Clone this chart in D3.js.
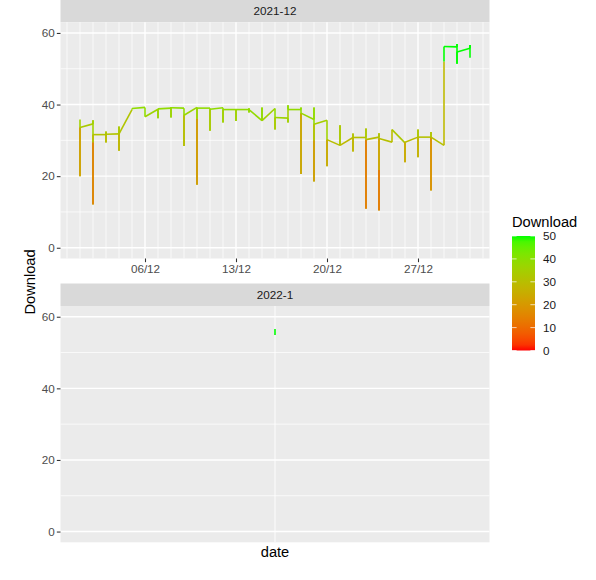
<!DOCTYPE html>
<html>
<head>
<meta charset="utf-8">
<script src="https://cdn.jsdelivr.net/npm/d3@7"></script>
<style>
  body { margin: 0; background: #fff; }
  text { font-family: "Liberation Sans", Arial, sans-serif; }
</style>
</head>
<body>
<div id="chart-area"></div>
<script>
// facet labels
var facetNames = ["2021-12", "2022-1"];

// dates of each facet (one reading list per date)
var decDates = ["2021-12-01", "2021-12-02", "2021-12-03", "2021-12-04", "2021-12-05",
    "2021-12-06", "2021-12-07", "2021-12-08", "2021-12-09", "2021-12-10",
    "2021-12-11", "2021-12-12", "2021-12-13", "2021-12-14", "2021-12-15",
    "2021-12-16", "2021-12-17", "2021-12-18", "2021-12-19", "2021-12-20",
    "2021-12-21", "2021-12-22", "2021-12-23", "2021-12-24", "2021-12-25",
    "2021-12-26", "2021-12-27", "2021-12-28", "2021-12-29", "2021-12-30",
    "2021-12-31"];
var janDates = ["2022-01-01"];

// download readings, in the order they were taken that day
var decReadings = [
    [35.8, 20.0, 33.6],
    [34.6, 35.6, 12.1, 29.5, 31.6],
    [31.6, 32.5, 29.4, 31.7],
    [31.8, 33.9, 27.1, 31.8],
    [38.6, 38.9],
    [39.2, 36.6],
    [38.7, 36.2, 38.8],
    [39.0, 36.4, 39.3, 39.1],
    [39.0, 28.4, 37.0],
    [39.2, 17.6, 36.0, 39.0],
    [39.0, 32.7, 38.7],
    [39.1, 35.0, 38.6],
    [38.6, 35.4, 38.6],
    [38.6, 39.0, 37.8, 38.6],
    [35.5, 39.2, 35.5],
    [38.9, 33.0, 36.4],
    [36.2, 35.0, 39.8, 38.6],
    [38.6, 39.2, 20.6, 37.6],
    [35.8, 39.2, 18.5, 30.0, 34.5],
    [35.6, 22.8, 30.2],
    [28.6, 34.2, 28.6],
    [30.8, 31.9, 26.9, 30.8],
    [30.8, 33.3, 10.9, 30.2],
    [30.9, 32.0, 10.4, 21.7, 30.5],
    [29.5, 33.0],
    [29.3, 23.9, 29.5],
    [30.9, 33.0, 25.3, 30.9],
    [30.9, 32.3, 16.0, 30.9],
    [28.6, 52.0, 56.2],
    [56.1, 56.9, 51.4, 54.7],
    [55.7, 56.6, 53.1]
];
var janReadings = [
    [56.6, 54.9]
];

var yTicks = [0, 20, 40, 60];
var yMinor = [10, 30, 50];
var yLimits = [0, 60];
var xTickDays = ["2021-12-06", "2021-12-13", "2021-12-20", "2021-12-27"];
var legendBreaks = [0, 10, 20, 30, 40, 50];
var colourLimits = [0, 50];

var width = 596;
var height = 580;
var panelLeft = 60.5;
var panelRight = 489.5;
var stripH = 22.5;
var panelTops = [22.2, 306];
var panelH = 236.3;

var parseDay = d3.utcParse("%Y-%m-%d");
var fmt = d3.utcFormat("%d/%m");

var svg = d3.select("#chart-area")
    .append("svg")
        .attr("width", width)
        .attr("height", height);

var colour = d3.scaleLinear()
    .domain(colourLimits)
    .range(["#ff0000", "#00ff00"])
    .interpolate(d3.interpolateLab)
    .clamp(true);

var y = d3.scaleLinear().domain([yLimits[0] - 3, yLimits[1] + 3]);

function flatten(dates, readings) {
    var pts = [];
    dates.forEach((d, i) => {
        readings[i].forEach((v) => {
            pts.push({date: parseDay(d), value: v});
        });
    });
    return pts;
}

var facets = [
    {name: facetNames[0], points: flatten(decDates, decReadings)},
    {name: facetNames[1], points: flatten(janDates, janReadings)}
];

facets.forEach((f, i) => {
    var top = panelTops[i];
    var bottom = top + panelH;
    var yp = y.copy().range([bottom, top]);

    // free x scale per facet, 5% expansion like ggplot
    var ext = d3.extent(f.points, (d) => d.date);
    var span = ext[1] - ext[0];
    var x;
    if (span > 0) {
        var pad = span * 0.05;
        x = d3.scaleUtc()
            .domain([new Date(+ext[0] - pad), new Date(+ext[1] + pad)])
            .range([panelLeft, panelRight]);
    } else {
        x = d3.scaleUtc()
            .domain([new Date(+ext[0] - 864e5), new Date(+ext[0] + 864e5)])
            .range([panelLeft, panelRight]);
    }

    var g = svg.append("g");

    // strip
    g.append("rect")
        .attr("x", panelLeft)
        .attr("y", top - stripH)
        .attr("width", panelRight - panelLeft)
        .attr("height", stripH)
        .attr("fill", "#d9d9d9");
    g.append("text")
        .attr("x", (panelLeft + panelRight) / 2)
        .attr("y", top - stripH / 2)
        .attr("dy", "0.35em")
        .attr("text-anchor", "middle")
        .attr("font-size", "11.7px")
        .attr("fill", "#1a1a1a")
        .text(f.name);

    // panel background
    g.append("rect")
        .attr("x", panelLeft)
        .attr("y", top)
        .attr("width", panelRight - panelLeft)
        .attr("height", panelH)
        .attr("fill", "#ebebeb");

    // horizontal grid
    g.selectAll(".hminor").data(yMinor).enter().append("line")
        .attr("x1", panelLeft).attr("x2", panelRight)
        .attr("y1", (d) => yp(d)).attr("y2", (d) => yp(d))
        .attr("stroke", "#fff").attr("stroke-width", 0.71);
    g.selectAll(".hmajor").data(yTicks).enter().append("line")
        .attr("x1", panelLeft).attr("x2", panelRight)
        .attr("y1", (d) => yp(d)).attr("y2", (d) => yp(d))
        .attr("stroke", "#fff").attr("stroke-width", 1.42);

    // vertical grid
    var majors = [];
    if (span > 0) {
        majors = xTickDays.map(parseDay);
        var majorSet = majors.map((d) => +d);
        var minors = d3.utcDay.range(d3.utcDay.ceil(x.domain()[0]), x.domain()[1])
            .filter((d) => majorSet.indexOf(+d) < 0);
        g.selectAll(".vminor").data(minors).enter().append("line")
            .attr("x1", (d) => x(d)).attr("x2", (d) => x(d))
            .attr("y1", top).attr("y2", bottom)
            .attr("stroke", "#fff").attr("stroke-width", 0.71);
        g.selectAll(".vmajor").data(majors).enter().append("line")
            .attr("x1", (d) => x(d)).attr("x2", (d) => x(d))
            .attr("y1", top).attr("y2", bottom)
            .attr("stroke", "#fff").attr("stroke-width", 1.42);
    } else {
        g.append("line")
            .attr("x1", x(ext[0])).attr("x2", x(ext[0]))
            .attr("y1", top).attr("y2", bottom)
            .attr("stroke", "#fff").attr("stroke-width", 0.9);
    }

    // line: each piece coloured by its starting value
    var pts = f.points.slice().sort((a, b) => a.date - b.date);
    var segs = d3.pairs(pts);
    g.selectAll(".seg").data(segs).enter().append("line")
        .attr("x1", (d) => x(d[0].date))
        .attr("y1", (d) => yp(d[0].value))
        .attr("x2", (d) => x(d[1].date))
        .attr("y2", (d) => yp(d[1].value))
        .attr("stroke", (d) => colour(d[0].value))
        .attr("stroke-width", 1.6)
        .attr("stroke-linecap", "butt");

    // y axis
    var yAxisCall = d3.axisLeft(yp).tickValues(yTicks).tickSize(3.67).tickPadding(2.2);
    var yAxisGroup = g.append("g")
        .attr("transform", "translate(" + panelLeft + ",0)")
        .call(yAxisCall);
    yAxisGroup.select(".domain").remove();
    yAxisGroup.selectAll("line").attr("stroke", "#333").attr("stroke-width", 1.07);
    yAxisGroup.selectAll("text")
        .attr("fill", "#4d4d4d")
        .attr("font-size", "11.7px")
        .attr("font-family", "Liberation Sans, Arial, sans-serif");

    // x axis (only the first facet has labelled days)
    if (majors.length) {
        var xAxisCall = d3.axisBottom(x).tickValues(majors).tickFormat(fmt)
            .tickSize(3.67).tickPadding(2.2);
        var xAxisGroup = g.append("g")
            .attr("transform", "translate(0," + bottom + ")")
            .call(xAxisCall);
        xAxisGroup.select(".domain").remove();
        xAxisGroup.selectAll("line").attr("stroke", "#333").attr("stroke-width", 1.07);
        xAxisGroup.selectAll("text")
            .attr("fill", "#4d4d4d")
            .attr("font-size", "11.7px")
            .attr("font-family", "Liberation Sans, Arial, sans-serif");
    }
});

// axis titles
svg.append("text")
    .attr("transform", "translate(35, 282) rotate(-90)")
    .attr("text-anchor", "middle")
    .attr("font-size", "14.67px")
    .text("Download");

svg.append("text")
    .attr("x", (panelLeft + panelRight) / 2)
    .attr("y", 557)
    .attr("text-anchor", "middle")
    .attr("font-size", "14.67px")
    .text("date");

// colour bar legend
var legX = 512;
var legTop = 236;
var legW = 23;
var legH = 114.5;
var legScale = d3.scaleLinear().domain(colourLimits).range([legTop + legH, legTop]);

var grad = svg.append("defs").append("linearGradient")
    .attr("id", "dl-grad")
    .attr("x1", 0).attr("y1", 1).attr("x2", 0).attr("y2", 0);
d3.range(0, 1.0001, 0.05).forEach((t) => {
    grad.append("stop")
        .attr("offset", t)
        .attr("stop-color", colour(colourLimits[0] + t * (colourLimits[1] - colourLimits[0])));
});

svg.append("text")
    .attr("x", legX)
    .attr("y", 227)
    .attr("font-size", "14.67px")
    .text("Download");

svg.append("rect")
    .attr("x", legX)
    .attr("y", legTop)
    .attr("width", legW)
    .attr("height", legH)
    .attr("fill", "url(#dl-grad)");

svg.selectAll(".legtick").data(legendBreaks).enter().append("g")
    .each(function(d) {
        var gy = legScale(d);
        d3.select(this).append("line")
            .attr("x1", legX).attr("x2", legX + legW / 5)
            .attr("y1", gy).attr("y2", gy)
            .attr("stroke", "#fff").attr("stroke-width", 0.7);
        d3.select(this).append("line")
            .attr("x1", legX + legW - legW / 5).attr("x2", legX + legW)
            .attr("y1", gy).attr("y2", gy)
            .attr("stroke", "#fff").attr("stroke-width", 0.7);
        d3.select(this).append("text")
            .attr("x", legX + legW + 8)
            .attr("y", gy)
            .attr("dy", "0.35em")
            .attr("font-size", "11.7px")
            .attr("fill", "#1a1a1a")
            .text(d);
    });
</script>
</body>
</html>
